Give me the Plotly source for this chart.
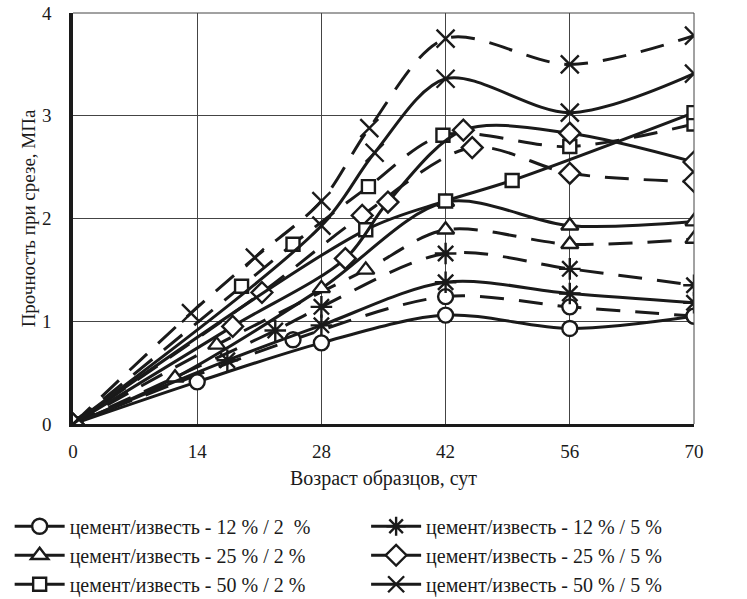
import plotly.graph_objects as go

# Возраст образцов (сут) и прочность при срезе (МПа)
# сплошные линии
c12_2_x = [0, 14, 28, 42, 56, 70]
c12_2_y = [0, 0.41, 0.79, 1.06, 0.93, 1.05]
c25_2_x = [0, 11.5, 28, 42, 56, 70]
c25_2_y = [0, 0.45, 1.32, 2.16, 1.93, 1.97]
c50_2_x = [0, 33, 42, 49.5, 70]
c50_2_y = [0, 1.89, 2.17, 2.37, 3.03]
c12_5_x = [0, 17.4, 28, 42, 56, 70]
c12_5_y = [0, 0.62, 0.96, 1.38, 1.27, 1.18]
c25_5_x = [0, 18, 30.7, 35.5, 44, 56, 70]
c25_5_y = [0, 0.95, 1.61, 2.16, 2.86, 2.83, 2.55]
c50_5_x = [0, 28, 34, 42, 56, 70]
c50_5_y = [0, 1.93, 2.64, 3.36, 3.03, 3.41]

# штриховые линии
d12_2_x = [0, 24.8, 42, 56, 70]
d12_2_y = [0, 0.82, 1.24, 1.14, 1.05]
d25_2_x = [0, 16.2, 33, 42, 56, 70]
d25_2_y = [0, 0.77, 1.50, 1.89, 1.75, 1.80]
d50_2_x = [0, 19, 24.8, 33.3, 41.7, 56, 70]
d50_2_y = [0, 1.34, 1.75, 2.31, 2.81, 2.70, 2.92]
d12_5_x = [0, 22.8, 28, 42, 56, 70]
d12_5_y = [0, 0.91, 1.14, 1.66, 1.51, 1.35]
d25_5_x = [0, 21.3, 32.6, 45, 56, 70]
d25_5_y = [0, 1.28, 2.03, 2.69, 2.44, 2.36]
d50_5_x = [0, 13.3, 20.5, 28, 33.4, 42, 56, 70]
d50_5_y = [0, 1.08, 1.62, 2.17, 2.88, 3.75, 3.50, 3.78]

x_ticks = [0, 14, 28, 42, 56, 70]
y_ticks = [0, 1, 2, 3, 4]

labels = {
    "12_2": "цемент/известь - 12 % / 2  %",
    "12_5": "цемент/известь - 12 % / 5 %",
    "25_2": "цемент/известь - 25 % / 2 %",
    "25_5": "цемент/известь - 25 % / 5 %",
    "50_2": "цемент/известь - 50 % / 2 %",
    "50_5": "цемент/известь - 50 % / 5 %",
}
ink = "#1a1a1a"
# символ, размер, заливка (у открытых символов цвет задаёт штрих)
symbols = {
    "12_2": ("circle", 15, "white"),
    "12_5": ("asterisk-open", 18, ink),
    "25_2": ("triangle-up", 15, "white"),
    "25_5": ("diamond", 16, "white"),
    "50_2": ("square", 13, "white"),
    "50_5": ("x-thin-open", 18, ink),
}
# левая колонка легенды — известь 2 %, правая — 5 %
legend_of = {"12_2": "legend", "25_2": "legend", "50_2": "legend",
             "12_5": "legend2", "25_5": "legend2", "50_5": "legend2"}
solid = {
    "12_2": (c12_2_x, c12_2_y), "12_5": (c12_5_x, c12_5_y),
    "25_2": (c25_2_x, c25_2_y), "25_5": (c25_5_x, c25_5_y),
    "50_2": (c50_2_x, c50_2_y), "50_5": (c50_5_x, c50_5_y),
}
dashed = {
    "12_2": (d12_2_x, d12_2_y), "12_5": (d12_5_x, d12_5_y),
    "25_2": (d25_2_x, d25_2_y), "25_5": (d25_5_x, d25_5_y),
    "50_2": (d50_2_x, d50_2_y), "50_5": (d50_5_x, d50_5_y),
}

fig = go.Figure()

def add(key, xs, ys, dash, show):
    sym, size, fill = symbols[key]
    fig.add_trace(go.Scatter(
        x=xs, y=ys, mode="lines+markers", name=labels[key],
        showlegend=show, legend=legend_of[key],
        line=dict(color=ink, width=3, dash=dash, shape="spline", smoothing=0.9),
        marker=dict(symbol=sym, size=size, color=fill,
                    line=dict(color=ink, width=2.4)),
    ))

order = ["12_2", "25_2", "50_2", "12_5", "25_5", "50_5"]
for key in order:
    add(key, *dashed[key], "24px,15px", False)
for key in order:
    add(key, *solid[key], "solid", True)

serif = "Liberation Serif"
legend_common = dict(orientation="v", yanchor="top", xanchor="left",
                     xref="paper", yref="container",
                     font=dict(family=serif, size=20), itemwidth=50,
                     tracegroupgap=0, bgcolor="rgba(0,0,0,0)")
fig.update_layout(
    width=747, height=599,
    margin=dict(l=73, r=53, t=13, b=175, autoexpand=False),
    paper_bgcolor="white", plot_bgcolor="white",
    font=dict(family=serif, size=19, color=ink),
    xaxis=dict(range=[0, 70], tickvals=x_ticks, showgrid=True,
               gridcolor="#444", gridwidth=1, zeroline=False,
               showline=True, linecolor=ink, linewidth=3, automargin=False,
               ticks="", ticklabelstandoff=8,
               tickfont=dict(family=serif, size=19),
               title=dict(text="Возраст образцов, сут", standoff=11,
                          font=dict(family=serif, size=20))),
    yaxis=dict(range=[0, 4], tickvals=y_ticks, showgrid=True,
               gridcolor="#444", gridwidth=1, zeroline=False,
               showline=True, linecolor=ink, linewidth=3.5, automargin=False,
               ticks="", ticklabelstandoff=14,
               tickfont=dict(family=serif, size=19),
               title=dict(text="Прочность при срезе, МПа", standoff=2,
                          font=dict(family=serif, size=19))),
    legend=dict(x=-0.102, y=0.154, **legend_common),
    legend2=dict(x=0.472, y=0.154, **legend_common),
)

# верхняя и правая рамка поля графика
fig.add_shape(type="line", xref="paper", yref="paper", x0=0, x1=1, y0=1, y1=1,
              line=dict(color="#444", width=1))
fig.add_shape(type="line", xref="paper", yref="paper", x0=1, x1=1, y0=0, y1=1,
              line=dict(color="#444", width=1))

fig.write_html("out.html")
